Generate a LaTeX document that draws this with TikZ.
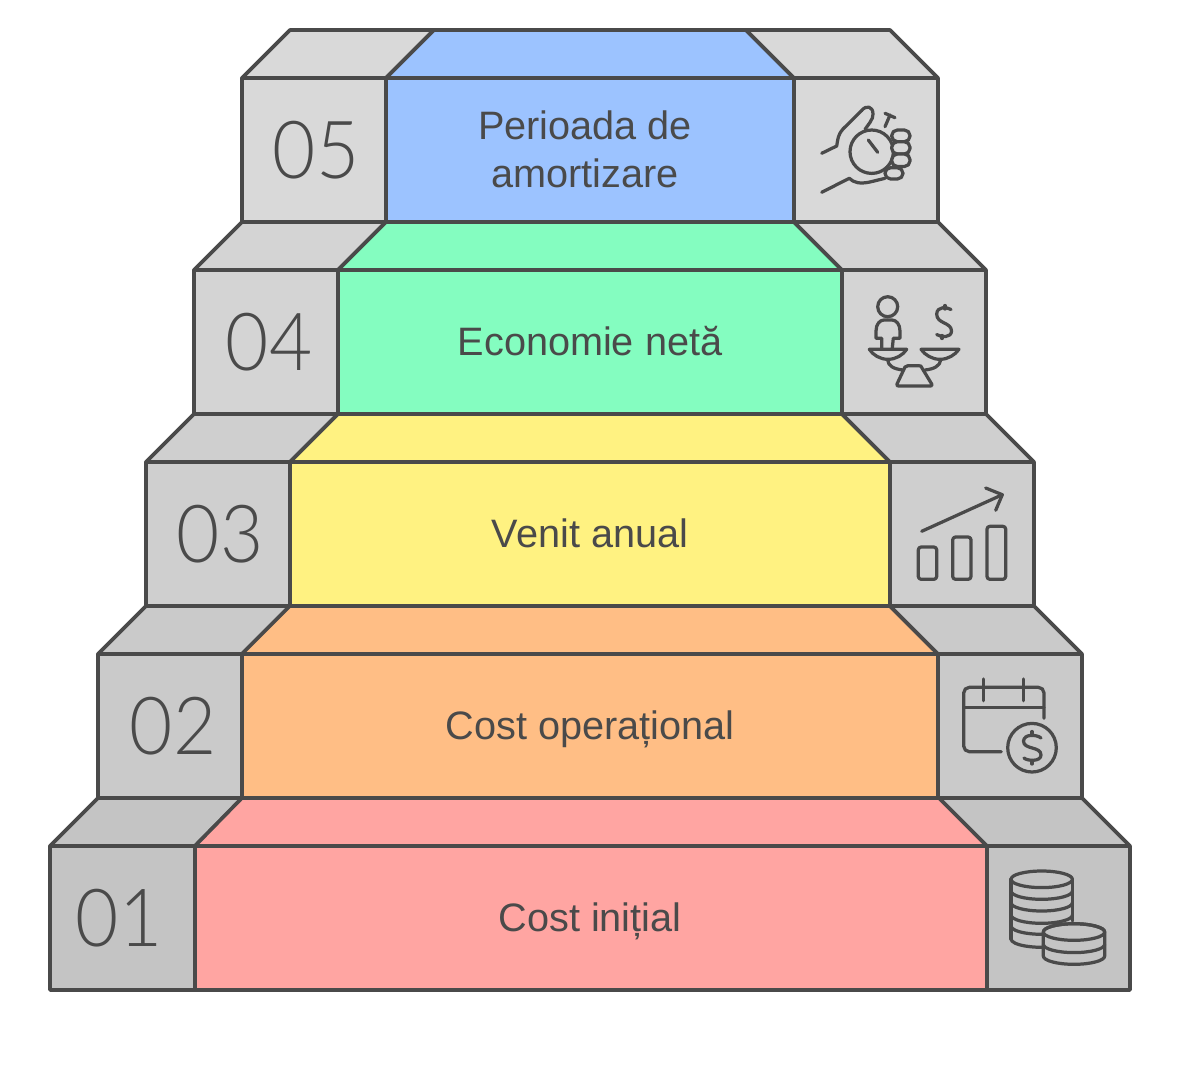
\documentclass[tikz,border=0pt]{standalone}
\usepackage{fontspec}
\setmainfont{Liberation Sans}
\newfontfamily\numfont[FakeStretch=0.93]{Lato Light}
\usepackage{tikz}
\usetikzlibrary{positioning, calc}
\definecolor{inkgray}{HTML}{4A4A4A}
\definecolor{stepblue}{HTML}{9CC3FF}
\definecolor{stepgreen}{HTML}{84FDC0}
\definecolor{stepyellow}{HTML}{FFF281}
\definecolor{steporange}{HTML}{FFBE85}
\definecolor{stepred}{HTML}{FFA5A2}
\definecolor{graya}{HTML}{D9D9D9}
\definecolor{grayb}{HTML}{D4D4D4}
\definecolor{grayc}{HTML}{CFCFCF}
\definecolor{grayd}{HTML}{CACACA}
\definecolor{graye}{HTML}{C4C4C4}

\begin{document}
\begin{tikzpicture}[
    x=0.025cm, y=-0.025cm,
    sidebox/.style={rectangle, draw=inkgray, line width=2.6pt, line join=round, minimum width=3.6cm, minimum height=3.6cm, inner sep=0pt, outer sep=0pt},
    labelbox/.style={rectangle, draw=inkgray, line width=2.6pt, line join=round, minimum height=3.6cm, inner sep=0pt, outer sep=0pt},
    numtext/.style={text=inkgray, inner sep=0pt, font=\numfont\fontsize{57}{60}\selectfont},
    steptext/.style={text=inkgray, align=center, inner sep=0pt, font=\fontsize{28.2}{34}\selectfont},
    roof/.style={draw=inkgray, line width=2.6pt, line join=round},
    glyph/.style={draw=inkgray, line width=2.3pt, line cap=round, line join=round}
]
\useasboundingbox (0,0) rectangle (1180,1088);

% Step 05
\node[sidebox, fill=graya] (num05) at (314,150) {};
\node[labelbox, fill=stepblue, minimum width=10.2cm] (body05) at (590,150) {};
\node[sidebox, fill=graya] (icon05) at (866,150) {};
\draw[roof, fill=graya] (num05.north west) -- ++(48,-48) -- ++(144,0) -- (num05.north east) -- cycle;
\draw[roof, fill=stepblue] (body05.north west) -- ++(48,-48) -- ++(312,0) -- (body05.north east) -- cycle;
\draw[roof, fill=graya] (icon05.north east) -- ++(-48,-48) -- ++(-144,0) -- (icon05.north west) -- cycle;
\node[numtext] (txtnum05) at (316,150) {05};
\node[steptext] (txt05) at (585,149) {Perioada de\\amortizare};

% Step 04
\node[sidebox, fill=grayb] (num04) at (266,342) {};
\node[labelbox, fill=stepgreen, minimum width=12.6cm] (body04) at (590,342) {};
\node[sidebox, fill=grayb] (icon04) at (914,342) {};
\draw[roof, fill=grayb] (num04.north west) -- ++(48,-48) -- ++(144,0) -- (num04.north east) -- cycle;
\draw[roof, fill=stepgreen] (body04.north west) -- ++(48,-48) -- ++(408,0) -- (body04.north east) -- cycle;
\draw[roof, fill=grayb] (icon04.north east) -- ++(-48,-48) -- ++(-144,0) -- (icon04.north west) -- cycle;
\node[numtext] (txtnum04) at (269,342) {04};
\node[steptext, anchor=base] (txt04) at (590,355) {Economie netă};

% Step 03
\node[sidebox, fill=grayc] (num03) at (218,534) {};
\node[labelbox, fill=stepyellow, minimum width=15cm] (body03) at (590,534) {};
\node[sidebox, fill=grayc] (icon03) at (962,534) {};
\draw[roof, fill=grayc] (num03.north west) -- ++(48,-48) -- ++(144,0) -- (num03.north east) -- cycle;
\draw[roof, fill=stepyellow] (body03.north west) -- ++(48,-48) -- ++(504,0) -- (body03.north east) -- cycle;
\draw[roof, fill=grayc] (icon03.north east) -- ++(-48,-48) -- ++(-144,0) -- (icon03.north west) -- cycle;
\node[numtext] (txtnum03) at (220,534) {03};
\node[steptext, anchor=base] (txt03) at (590,547) {Venit anual};

% Step 02
\node[sidebox, fill=grayd] (num02) at (170,726) {};
\node[labelbox, fill=steporange, minimum width=17.4cm] (body02) at (590,726) {};
\node[sidebox, fill=grayd] (icon02) at (1010,726) {};
\draw[roof, fill=grayd] (num02.north west) -- ++(48,-48) -- ++(144,0) -- (num02.north east) -- cycle;
\draw[roof, fill=steporange] (body02.north west) -- ++(48,-48) -- ++(600,0) -- (body02.north east) -- cycle;
\draw[roof, fill=grayd] (icon02.north east) -- ++(-48,-48) -- ++(-144,0) -- (icon02.north west) -- cycle;
\node[numtext] (txtnum02) at (173,726) {02};
\node[steptext, anchor=base] (txt02) at (590,739) {Cost operațional};

% Step 01
\node[sidebox, fill=graye, minimum width=3.625cm] (num01) at (122.5,918) {};
\node[labelbox, fill=stepred, minimum width=19.8cm] (body01) at (591,918) {};
\node[sidebox, fill=graye, minimum width=3.575cm] (icon01) at (1058.5,918) {};
\draw[roof, fill=graye] (num01.north west) -- ++(48,-48) -- ++(145,0) -- (num01.north east) -- cycle;
\draw[roof, fill=stepred] (body01.north west) -- ++(47,-48) -- ++(698,0) -- (body01.north east) -- cycle;
\draw[roof, fill=graye] (icon01.north east) -- ++(-48,-48) -- ++(-143,0) -- (icon01.north west) -- cycle;
\node[numtext] (txtnum01) at (119,918) {01};
\node[steptext, anchor=base] (txt01) at (590,931) {Cost inițial};

% Icon 05 - hand with stopwatch
\draw[glyph] (871.7,151.7) circle (21.7);
\draw[glyph] (868.3,140) -- (877.7,152.3);
\draw[glyph] (885,126.7) -- (890,115);
\draw[glyph] (885,113.3) -- (895,117.7);
\draw[glyph, fill=graya, rounded corners=4pt] (891.7,130) rectangle (910,141.7);
\draw[glyph, fill=graya, rounded corners=4pt] (891.7,141.7) rectangle (910,154);
\draw[glyph, fill=graya, rounded corners=4pt] (891.7,154) rectangle (910,166.5);
\draw[glyph, fill=graya, rounded corners=4pt] (885,167.7) rectangle (903,179);
\draw[glyph] (821.7,153.3) -- (836.7,146) .. controls (838,138) and (838,135) .. (843,129) -- (861.7,110.5) .. controls (866,105) and (873,106) .. (873,114) .. controls (873.5,119) and (868,125) .. (865,129.3);
\draw[glyph] (821.7,192.3) -- (849.3,178.3) .. controls (854,183) and (860,184) .. (870,182) -- (885,178.3);

% Icon 04 - balance
\draw[glyph] (887.7,306.7) circle (10);
\draw[glyph] (881.7,348.3) -- (881.7,338.3) -- (876,338.3) -- (876,331) .. controls (876,324) and (880,320) .. (884,320) -- (892,320) .. controls (896,320) and (900,324) .. (900,331) -- (900,338.3) -- (893.3,338.3) -- (892.3,348.3);
\draw[glyph] (869.3,349.3) -- (906.7,349.3) .. controls (903,355) and (896,359.3) .. (888,359.3) .. controls (880,359.3) and (873,355) .. (869.3,349.3) -- cycle;
\draw[glyph] (921,349.3) -- (959,349.3) .. controls (955,355) and (948,359.3) .. (940,359.3) .. controls (932,359.3) and (925,355) .. (921,349.3) -- cycle;
\draw[glyph] (905,367) .. controls (906,365.7) .. (908,365.7) -- (918,365.7) .. controls (921,365.7) .. (922,368) -- (931.7,384) .. controls (932,386) .. (930,386) -- (899,386) .. controls (897,386) .. (897,384) -- cycle;
\draw[glyph] (887.7,360) .. controls (888,366) and (894,369) .. (903,370);
\draw[glyph] (940.7,360) .. controls (940,366) and (934,369) .. (925,370);
\draw[glyph] (951,309.5) .. controls (947,307) and (937,306) .. (936.7,314) .. controls (936.5,324) and (951.5,322) .. (951.5,331) .. controls (951.5,338) and (941,337.5) .. (936.7,334.5);
\draw[glyph] (945,305.5) -- (945,309);
\draw[glyph] (942,335.5) -- (942,338.5);

% Icon 03 - growth bars
\draw[glyph] (921.7,531.3) -- (1002.3,494.7);
\draw[glyph] (985.7,488) -- (1002.3,494.7) -- (995.7,510.3);
\draw[glyph, rounded corners=2pt] (918.3,547) rectangle (936.7,579.3);
\draw[glyph, rounded corners=2pt] (952.7,537) rectangle (971,579.3);
\draw[glyph, rounded corners=2pt] (987,526.3) rectangle (1005.7,579.3);

% Icon 02 - calendar with coin
\draw[glyph, rounded corners=4pt] (1001.3,751.7) -- (963.7,751.7) -- (963.7,687.3) -- (1044,687.3) -- (1044,718.3);
\draw[glyph] (963.7,707.7) -- (1044,707.7);
\draw[glyph] (983.7,679) -- (983.7,700.7);
\draw[glyph] (1023.7,679) -- (1023.7,700.7);
\draw[glyph] (1032,747.7) circle (24.3);
\draw[glyph] (1041,738) .. controls (1037,734.5) and (1024,733.5) .. (1023.5,741) .. controls (1023.5,750) and (1041,746) .. (1041,755) .. controls (1041,762) and (1027,761) .. (1024,758);
\draw[glyph] (1032,731.5) -- (1032,735);
\draw[glyph] (1032,760.5) -- (1032,764);

% Icon 01 - coins
\draw[glyph] (1041.7,879.3) ellipse (30.7 and 8.3);
\draw[glyph] (1011,879.3) -- (1011,939);
\draw[glyph] (1072.4,879.3) -- (1072.4,921);
\draw[glyph] (1011,891) arc[start angle=180, end angle=360, x radius=30.7, y radius=-8.3];
\draw[glyph] (1011,902.7) arc[start angle=180, end angle=360, x radius=30.7, y radius=-8.3];
\draw[glyph] (1011,915) arc[start angle=180, end angle=360, x radius=30.7, y radius=-8.3];
\draw[glyph] (1011,926) arc[start angle=180, end angle=280, x radius=30.7, y radius=-8.3];
\draw[glyph] (1011,939) arc[start angle=180, end angle=280, x radius=30.7, y radius=-8.3];
\draw[glyph, fill=graye] (1043.3,932) -- (1043.3,956) arc[start angle=180, end angle=360, x radius=30.7, y radius=-8.3] -- (1104.7,932) arc[start angle=0, end angle=180, x radius=30.7, y radius=-8.3];
\draw[glyph] (1074,932) ellipse (30.7 and 8.3);
\draw[glyph] (1043.3,944.3) arc[start angle=180, end angle=360, x radius=30.7, y radius=-8.3];

\end{tikzpicture}
\end{document}
